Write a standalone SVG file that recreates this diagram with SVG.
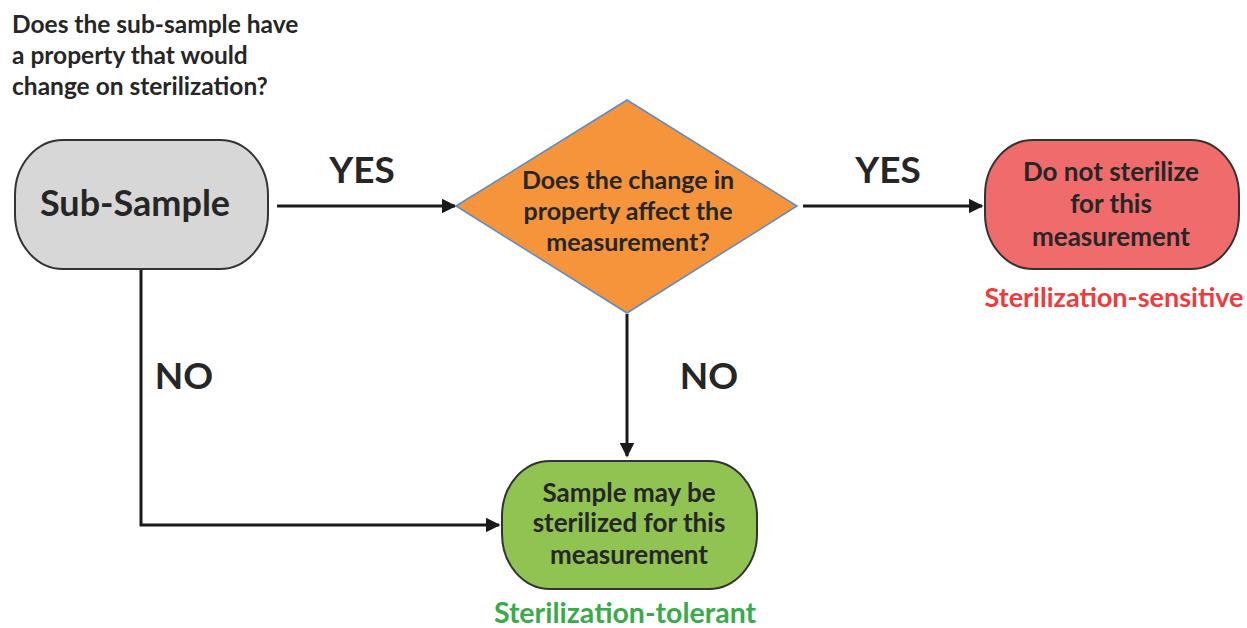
<svg xmlns="http://www.w3.org/2000/svg" width="1247" height="628" viewBox="0 0 1247 628">
<style>
.t{font-family:Lato,"Open Sans","Liberation Sans",sans-serif;font-weight:bold;fill:#262626;text-anchor:middle}
.lbl{font-size:37px}
.q{font-size:24.5px;text-anchor:start}
.d{font-size:25px}
.n{font-size:26px}
.node{stroke:#333;stroke-width:2}
.conn{stroke:#1a1a1a;stroke-width:3;fill:none}
</style>
<defs>
<marker id="arr" viewBox="0 0 10 10" refX="9" refY="5" markerWidth="5" markerHeight="5" markerUnits="strokeWidth" orient="auto">
<path d="M0,0 L10,5 L0,10 z" fill="#1a1a1a"/>
</marker>
</defs>
<text class="t q" x="12" y="33">Does the sub-sample have</text>
<text class="t q" x="12" y="64">a property that would</text>
<text class="t q" x="12" y="95">change on sterilization?</text>
<g id="connectors">
<line class="conn" x1="277" y1="206" x2="455" y2="206" marker-end="url(#arr)"/>
<line class="conn" x1="803" y1="206" x2="982" y2="206" marker-end="url(#arr)"/>
<line class="conn" x1="627" y1="314" x2="627" y2="456" marker-end="url(#arr)"/>
<polyline class="conn" points="141,270 141,525 499,525" marker-end="url(#arr)"/>
<text class="t lbl" x="362" y="183">YES</text>
<text class="t lbl" x="888" y="183">YES</text>
<text class="t lbl" x="184" y="389">NO</text>
<text class="t lbl" x="709" y="389">NO</text>
</g>
<g id="sub-sample">
<rect class="node" x="15" y="140" width="253" height="129" rx="48" ry="55" fill="#d7d7d7"/>
<text class="t" style="font-size:36px" x="135" y="216">Sub-Sample</text>
</g>
<g id="decision">
<polygon points="456,206 627,100 797,206 627,313" fill="#f5943b" stroke="#5b8cc8" stroke-width="1.5"/>
<text class="t d" x="628" y="189">Does the change in</text>
<text class="t d" x="628" y="220">property affect the</text>
<text class="t d" x="628" y="251">measurement?</text>
</g>
<g id="do-not-sterilize">
<rect class="node" x="985" y="140" width="254" height="129" rx="48" ry="55" fill="#ef6b6c"/>
<text class="t n" x="1111" y="181">Do not sterilize</text>
<text class="t n" x="1111" y="213">for this</text>
<text class="t n" x="1111" y="246">measurement</text>
<text class="t" style="font-size:27px;fill:#ee3b3b" x="1114" y="307">Sterilization-sensitive</text>
</g>
<g id="may-be-sterilized">
<rect class="node" x="502" y="461" width="255" height="128" rx="48" ry="55" fill="#90c352"/>
<text class="t n" x="629" y="502">Sample may be</text>
<text class="t n" x="629" y="532">sterilized for this</text>
<text class="t n" x="629" y="564">measurement</text>
<text class="t" style="font-size:28.5px;fill:#3aaa4a" x="625" y="623">Sterilization-tolerant</text>
</g>
</svg>
